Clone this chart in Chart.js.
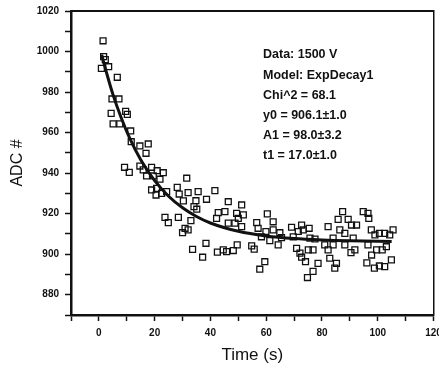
<!DOCTYPE html>
<html>
<head>
<meta charset="utf-8">
<script src="https://cdn.jsdelivr.net/npm/chart.js@4.4.0/dist/chart.umd.min.js"></script>
<style>
  html, body { margin: 0; padding: 0; background: #fff; }
</style>
</head>
<body>
<canvas id="decayChart" width="439" height="367"></canvas>
<script>
// measured points (time in s, ADC counts)
const timeValues = [
  0.9, 1.5, 1.7, 2.3, 3.5, 4.4, 4.7, 5.1, 6.6, 7.2, 7.5, 9.2, 9.6, 10.2, 10.9, 11.4, 11.6,
  14.7, 14.7, 15.9, 16.9, 17.1, 17.7, 18.9, 18.9, 19.5, 20.5, 20.7, 20.9, 21.9, 22.5, 23.1, 23.7, 24.3, 24.9,
  28.1, 28.5, 28.8, 30.0, 30.3, 30.9, 31.5, 32.0, 32.0, 33.0, 33.6, 34.1, 34.8, 35.1, 35.6, 37.2, 38.4, 38.6,
  41.6, 42.2, 42.5, 42.8, 44.6, 45.2, 45.8, 46.4, 46.4, 48.2, 48.8, 49.4, 49.6, 50.0, 51.2, 51.2, 51.8,
  54.8, 55.7, 56.6, 57.1, 57.7, 58.3, 59.5, 59.9, 60.4, 61.3, 62.5, 62.5, 64.3, 64.9, 65.5, 69.1, 69.7,
  70.9, 71.5, 72.1, 72.7, 72.7, 73.3, 74.1, 74.8, 75.1, 75.4, 75.7, 76.8, 76.8, 77.5, 78.6,
  81.0, 82.2, 82.2, 82.8, 84.0, 84.0, 84.6, 85.2, 85.8, 86.4, 87.4, 88.2, 88.2, 89.4, 90.4, 90.6, 91.2, 91.8, 92.4,
  94.8, 96.1, 96.5, 96.5, 96.8, 97.7, 97.8, 98.8, 99.0, 99.6, 100.6, 100.6, 101.6, 102.5, 102.5, 103.1, 104.3, 104.9, 105.5
];
const adcValues = [
  991.7, 1005.3, 997.5, 996.0, 992.5, 969.5, 976.6, 964.3, 987.3, 976.6, 964.3, 942.9, 970.5, 969.0, 940.4, 960.8, 955.5,
  953.4, 943.5, 941.6, 949.8, 938.6, 954.4, 942.9, 931.7, 938.6, 929.2, 932.5, 941.2, 937.0, 930.0, 940.2, 918.2, 930.9, 915.6,
  933.0, 918.2, 929.7, 910.6, 926.3, 912.8, 937.5, 930.4, 912.0, 916.6, 902.4, 923.5, 926.4, 922.2, 930.9, 898.5, 905.4, 927.1,
  931.4, 917.7, 901.0, 920.5, 902.1, 921.0, 901.3, 925.9, 915.3, 901.8, 915.3, 920.2, 904.6, 917.7, 924.3, 913.6, 919.4,
  904.1, 902.5, 915.6, 912.8, 892.6, 908.6, 896.3, 911.2, 919.9, 906.7, 916.0, 912.0, 904.6, 910.6, 908.2, 913.3, 908.6,
  902.9, 911.2, 900.5, 914.4, 898.5, 912.0, 896.3, 888.5, 902.1, 912.8, 907.9, 891.5, 902.1, 907.5, 895.5,
  904.6, 913.6, 902.1, 898.0, 904.6, 907.9, 893.1, 895.5, 917.2, 912.0, 921.0, 910.3, 904.6, 917.2, 900.8, 914.4, 907.9, 902.1, 914.4,
  921.0, 895.7, 920.2, 904.6, 917.7, 912.0, 899.6, 893.1, 909.5, 902.1, 910.3, 894.2, 902.1, 910.3, 893.9, 903.7, 909.5, 897.2, 912.0
];

// fitted ExpDecay1 curve
const fitTime = [1, 3, 5, 8, 11, 15, 20, 25, 30, 35, 40, 50, 60, 70, 80, 90, 105];
const fitAdc = [998.5, 988.3, 979.0, 967.3, 957.4, 946.6, 936.3, 928.6, 922.9, 918.6, 915.4, 911.3, 909.0, 907.7, 907.0, 906.6, 906.3];

const fitInfo = [
  'Data: 1500 V',
  'Model: ExpDecay1',
  'Chi^2 = 68.1',
  'y0 = 906.1\u00b11.0',
  'A1 = 98.0\u00b13.2',
  't1 = 17.0\u00b11.0'
];

const ink = '#111';
const fam = '"Liberation Sans", Arial, sans-serif';

const fitInfoPlugin = {
  id: 'fitInfo',
  afterDraw(chart) {
    const { ctx, chartArea } = chart;
    ctx.save();
    ctx.font = 'bold 12.5px ' + fam;
    ctx.fillStyle = ink;
    ctx.textBaseline = 'middle';
    fitInfo.forEach((line, i) => {
      ctx.fillText(line, chartArea.left + 192, chartArea.top + 44 + i * 20.2);
    });
    ctx.restore();
  }
};

const tickFont = { family: fam, size: 10, weight: 'bold' };

const ctx = document.getElementById('decayChart').getContext('2d');
new Chart(ctx, {
  type: 'scatter',
  data: {
    datasets: [
      {
        label: 'fit',
        data: fitTime.map((t, i) => ({ x: t, y: fitAdc[i] })),
        showLine: true,
        borderColor: ink,
        borderWidth: 3,
        pointRadius: 0,
        cubicInterpolationMode: 'monotone'
      },
      {
        label: '1500 V',
        data: timeValues.map((t, i) => ({ x: t, y: adcValues[i] })),
        pointStyle: 'rect',
        pointRadius: 4.2,
        pointBorderWidth: 1.3,
        pointBorderColor: ink,
        pointBackgroundColor: 'rgba(0,0,0,0)'
      }
    ]
  },
  options: {
    responsive: false,
    animation: false,
    layout: { padding: { top: 11, right: 5, left: 0, bottom: 0 } },
    plugins: { legend: { display: false }, tooltip: { enabled: false } },
    scales: {
      x: {
        type: 'linear',
        min: -10,
        max: 120,
        afterFit: s => { s.height = 52; s.paddingLeft = 0; s.paddingRight = 0; },
        border: { color: ink, width: 2.5 },
        grid: { drawOnChartArea: false, drawTicks: true, tickLength: 6, tickWidth: 1.5, tickColor: ink },
        ticks: {
          stepSize: 10, autoSkip: false, maxRotation: 0, padding: 6, color: ink, font: tickFont,
          callback: v => (v % 20 === 0 ? v : '')
        },
        title: { display: true, text: 'Time (s)', color: ink, font: { family: fam, size: 17 }, padding: { top: 0, bottom: 1 } }
      },
      y: {
        type: 'linear',
        min: 870,
        max: 1020,
        afterFit: s => { s.width = 71; s.paddingTop = 0; s.paddingBottom = 0; },
        border: { color: ink, width: 2.5 },
        grid: { drawOnChartArea: false, drawTicks: true, tickLength: 6, tickWidth: 1.5, tickColor: ink },
        ticks: {
          stepSize: 10, autoSkip: false, padding: 6, color: ink, font: tickFont,
          callback: v => (v % 20 === 0 ? v : '')
        },
        title: { display: true, text: 'ADC #', color: ink, font: { family: fam, size: 16 }, padding: { top: 8, bottom: 0 } }
      },
      xTop: {
        type: 'linear',
        position: 'top',
        min: -10,
        max: 120,
        afterFit: s => { s.height = 0; s.paddingLeft = 0; s.paddingRight = 0; },
        border: { color: ink, width: 2 },
        grid: { display: false },
        ticks: { display: false }
      },
      yRight: {
        type: 'linear',
        position: 'right',
        min: 870,
        max: 1020,
        afterFit: s => { s.width = 0; s.paddingTop = 0; s.paddingBottom = 0; },
        border: { color: ink, width: 1.5 },
        grid: { display: false },
        ticks: { display: false }
      }
    }
  },
  plugins: [fitInfoPlugin]
});
</script>
</body>
</html>
